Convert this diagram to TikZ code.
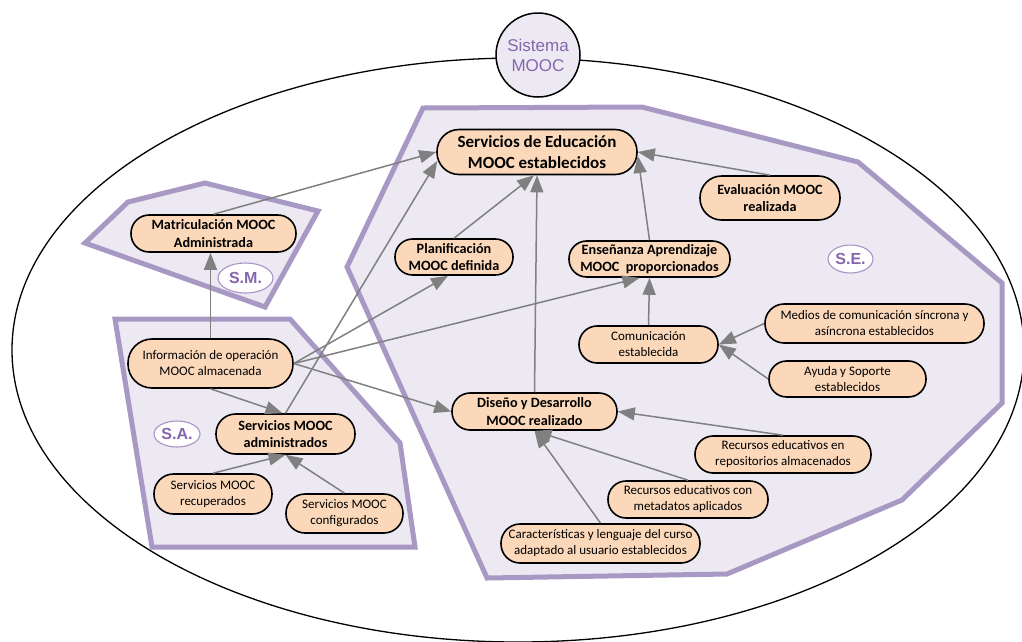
\documentclass[tikz,border=0pt]{standalone}
\usepackage{fontspec}
\setmainfont{Carlito}
\newfontfamily\arialf{Liberation Sans}
\usetikzlibrary{arrows.meta,calc,shapes.geometric}

\definecolor{zonefill}{HTML}{ECE9F2}
\definecolor{zoneline}{HTML}{A898C4}
\definecolor{boxfill}{HTML}{FBD8BA}
\definecolor{linkgray}{HTML}{808080}
\definecolor{tagpurple}{HTML}{8466AE}

\tikzset{
  zone/.style={draw=zoneline, fill=zonefill, line width=5pt, line join=miter},
  box/.style 2 args={draw=black, line width=1.6pt, fill=boxfill,
    minimum width=#1pt, minimum height=#2pt, rounded corners={#2*0.49pt},
    inner sep=0pt, align=center, text=black},
  bigtxt/.style={font=\fontsize{17}{21}\selectfont\bfseries},
  midtxt/.style={font=\fontsize{14.2}{17.5}\selectfont\bfseries},
  smalltxt/.style={font=\fontsize{13}{16}\selectfont},
  link/.style={draw=linkgray, line width=1.5pt, -{Triangle[length=17pt,width=13pt]}},
  tag/.style 2 args={ellipse, draw=tagpurple!70, line width=1.1pt, fill=white,
    text=tagpurple, font=\arialf\bfseries\fontsize{16}{16}\selectfont,
    minimum width=#1pt, minimum height=#2pt, inner sep=0pt},
}

\begin{document}
\begin{tikzpicture}[x=1pt,y=-1pt]
\useasboundingbox (0,0) rectangle (1022,641);
\clip (0,0) rectangle (1022,641);

% system boundary
\draw[line width=1.3pt] (518,350) ellipse [x radius=506, y radius=292];

% subsystem zones
\draw[zone] (423,108) -- (642,107) -- (858,162) -- (1002,283) -- (1002,403)
  -- (902,500) -- (727,574) -- (487,578) -- (347,267) -- cycle;
\draw[zone] (85,243) -- (128,202) -- (205,183) -- (318,211) -- (265,307) -- cycle;
\draw[zone] (115,319) -- (290,319) -- (400,443) -- (415,547) -- (152,547) -- cycle;

% system title
\node[circle, draw=black, line width=1.5pt, fill=zonefill, minimum size=84pt,
  inner sep=0pt, align=center, text=tagpurple,
  font=\arialf\fontsize{17}{20}\selectfont] (sys) at (538,55) {Sistema\\MOOC};

% states
\node[box={200}{45}, bigtxt] (edu) at (537,152) {Servicios de Educación\\MOOC establecidos};
\node[box={140}{44}, midtxt] (eval) at (770,198) {Evaluación MOOC\\realizada};
\node[box={161}{36}, midtxt] (teach) at (649.5,259) {Enseñanza Aprendizaje\\MOOC\ \ proporcionados};
\node[box={118}{36}, midtxt] (plan) at (454,257) {Planificación\\MOOC definida};
\node[box={165}{37}, midtxt] (matr) at (213.5,233.5) {Matriculación MOOC\\Administrada};
\node[box={165}{49}, smalltxt] (info) at (210.5,363.5) {Información de operación\\MOOC almacenada};
\node[box={139}{40}, midtxt] (adm) at (285.5,434) {Servicios MOOC\\administrados};
\node[box={118}{40}, smalltxt] (rec) at (213,494) {Servicios MOOC\\recuperados};
\node[box={117}{39}, smalltxt] (conf) at (344.5,513.5) {Servicios MOOC\\configurados};
\node[box={165}{37}, midtxt] (dis) at (534.5,411.5) {Diseño y Desarrollo\\MOOC realizado};
\node[box={139}{37}, smalltxt] (com) at (648.5,344.5) {Comunicación\\establecida};
\node[box={219}{39}, smalltxt] (med) at (874.5,323.5) {Medios de comunicación síncrona y\\asíncrona establecidos};
\node[box={157}{36}, smalltxt] (ayu) at (847.5,379) {Ayuda y Soporte\\establecidos};
\node[box={176}{37}, smalltxt] (rep) at (783,454.5) {Recursos educativos en\\repositorios almacenados};
\node[box={160}{37}, smalltxt] (meta) at (688,499.5) {Recursos educativos con\\metadatos aplicados};
\node[box={199}{39}, smalltxt] (car) at (600.5,543.5) {Características y lenguaje del curso\\adaptado al usuario establecidos};

% zone tags
\node[tag={55}{30}] (tsm) at (245.5,278) {S.M.};
\node[tag={46}{26}] (tsa) at (177,434) {S.A.};
\node[tag={45}{28}] (tse) at (850.5,259) {S.E.};

% connections
\draw[link] (matr.north) -- (edu.west);
\draw[link] (info.north) -- (info.north |- matr.south);
\draw[link] (adm.north) -- ($(edu.west)+(1,9)$);
\draw[link] (info.east) -- ($(plan.south)+(-6,0)$);
\draw[link] (info.east) -- ($(teach.south)+(-10,0)$);
\draw[link] (info.east) -- (dis.west);
\draw[link] (info.south) -- ($(adm.north)+(-3,0)$);
\draw[link] (plan.north) -- ($(edu.south)+(-3,0)$);
\draw[link] (dis.north) -- (edu.south);
\draw[link] (teach.north) -- ($(edu.east)+(0,4)$);
\draw[link] (eval.north) -- (edu.east);
\draw[link] (com.north) -- (teach.south);
\draw[link] (med.west) -- (com.east);
\draw[link] (ayu.west) -- (com.east);
\draw[link] (rep.north) -- (dis.east);
\draw[link] (meta.north) -- (dis.south);
\draw[link] (car.north) -- (dis.south);
\draw[link] (rec.north) -- (adm.south);
\draw[link] (conf.north) -- (adm.south);
\end{tikzpicture}
\end{document}
